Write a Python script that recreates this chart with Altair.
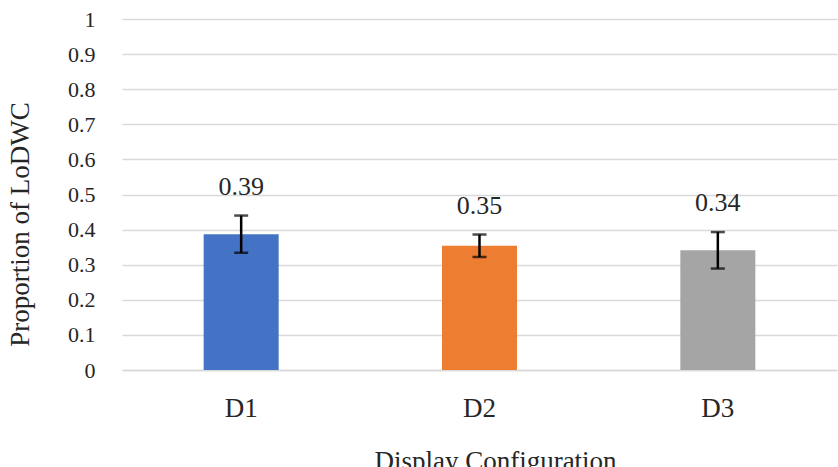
import altair as alt
import pandas as pd

configs = ["D1", "D2", "D3"]
means = [0.387, 0.354, 0.341]
errors = [0.053, 0.032, 0.052]
colors = ["#4472C4", "#ED7D31", "#A5A5A5"]
y_ticks = [0, 0.1, 0.2, 0.3, 0.4, 0.5, 0.6, 0.7, 0.8, 0.9, 1]

df = pd.DataFrame({
    "config": configs,
    "mean": means,
    "lo": [m - e for m, e in zip(means, errors)],
    "hi": [m + e for m, e in zip(means, errors)],
})

FONT = "Liberation Serif"
TXT = "#262626"

yscale = alt.Scale(domain=[0, 1], nice=False)
xscale = alt.Scale(paddingInner=0, paddingOuter=0)

xaxis = alt.Axis(title="Display  Configuration", labelAngle=0, ticks=False, tickSize=0,
                 grid=False,
                 domain=True, domainColor="#D9D9D9", domainWidth=1.5,
                 labelFont=FONT, labelFontSize=27, labelColor=TXT,
                 labelBaseline="middle", labelPadding=38,
                 titleFont=FONT, titleFontSize=27, titleFontWeight="normal",
                 titleColor=TXT, titleBaseline="alphabetic",
                 titleX=373, titleY=99, titleAlign="center")

yaxis = alt.Axis(title="Proportion of LoDWC", values=y_ticks,
                 format="~g", ticks=False, tickSize=0, domain=False, labelOverlap=False,
                 grid=True, gridColor="#D9D9D9", gridWidth=1.5,
                 labelFont=FONT, labelFontSize=22, labelColor=TXT, labelPadding=27,
                 titleFont=FONT, titleFontSize=27, titleFontWeight="normal",
                 titleColor=TXT, titleBaseline="alphabetic", titleAngle=-90,
                 titleX=-94, titleY=205, titleAlign="center")

def X():
    return alt.X("config:N", sort=configs, scale=xscale, axis=xaxis)

def Y(field):
    return alt.Y(field, type="quantitative", scale=yscale, axis=yaxis)

base = alt.Chart(df)

bars = base.mark_bar(size=75).encode(
    x=X(),
    y=Y("mean"),
    color=alt.Color("config:N", scale=alt.Scale(domain=configs, range=colors), legend=None),
)

rules = base.mark_rule(color="black", strokeWidth=2.5).encode(
    x=X(),
    y=Y("lo"),
    y2="hi:Q",
)

caps_hi = base.mark_tick(color="black", size=14, thickness=2.5).encode(
    x=X(),
    y=Y("hi"),
)
caps_lo = base.mark_tick(color="black", size=14, thickness=2.5).encode(
    x=X(),
    y=Y("lo"),
)

labels = base.mark_text(font=FONT, fontSize=26, color=TXT, baseline="middle", dy=-29).encode(
    x=X(),
    y=Y("hi"),
    text=alt.Text("mean:Q", format=".2f"),
)

chart = alt.layer(bars, rules, caps_hi, caps_lo, labels).properties(
    width=715, height=351,
    autosize=alt.AutoSizeParams(type="none"),
    padding={"left": 122, "top": 19, "right": 1, "bottom": 97},
).configure(background="white").configure_view(stroke=None)

chart.save("out.html", embed_options={"renderer": "svg", "actions": False})
